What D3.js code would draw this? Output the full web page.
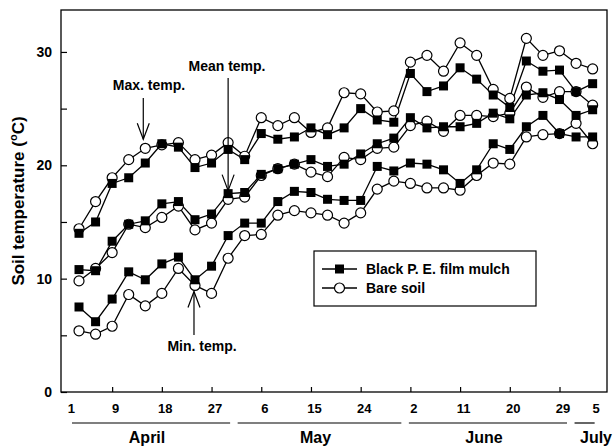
<!DOCTYPE html>
<html>
<head>
<meta charset="utf-8">
<script src="https://cdn.jsdelivr.net/npm/d3@7"></script>
<style>
body { margin: 0; background: #fff; }
text { font-family: "Liberation Sans", Arial, sans-serif; font-weight: bold; fill: #000; }
</style>
</head>
<body>
<div id="chart"></div>
<script>
// day of season (1 = April 1), one point every 3 days
const days = [3, 6, 9, 12, 15, 18, 21, 24, 27, 30, 33, 36, 39, 42, 45, 48,
              51, 54, 57, 60, 63, 66, 69, 72, 75, 78, 81, 84, 87, 90, 93, 96];

const maxMulch  = [14.0, 15.0, 18.4, 18.9, 20.2, 21.9, 21.6, 19.8, 20.2, 21.4, 20.5, 22.8, 22.3, 22.5, 23.3, 22.7,
                   23.3, 25.0, 24.0, 23.8, 28.1, 26.5, 27.0, 28.6, 27.6, 26.2, 25.1, 29.2, 28.3, 28.4, 26.5, 27.2];
const meanMulch = [10.8, 10.7, 13.3, 14.8, 15.1, 16.6, 16.8, 15.2, 15.7, 17.5, 17.6, 19.2, 19.7, 20.1, 20.5, 19.9,
                   20.1, 21.0, 21.9, 22.4, 24.2, 23.3, 23.4, 23.4, 23.7, 24.6, 24.1, 26.2, 26.4, 25.8, 24.4, 24.9];
const minMulch  = [7.5, 6.2, 8.2, 10.6, 9.9, 11.3, 11.9, 9.9, 11.1, 13.8, 14.9, 14.9, 16.8, 17.7, 17.6, 17.0,
                   16.9, 16.9, 19.9, 19.5, 20.2, 20.1, 19.6, 18.4, 19.6, 21.9, 21.4, 23.4, 24.4, 22.8, 22.5, 22.5];

const maxBare   = [14.4, 16.8, 18.9, 20.5, 21.5, 21.8, 22.0, 20.5, 20.9, 22.0, 20.8, 24.2, 23.5, 24.2, 22.9, 23.3,
                   26.4, 26.3, 24.7, 24.8, 29.1, 29.7, 28.3, 30.8, 29.7, 26.7, 25.9, 31.2, 29.7, 30.1, 29.0, 28.5];
const meanBare  = [9.8, 10.9, 12.3, 14.8, 14.5, 15.4, 16.4, 14.3, 14.9, 17.0, 17.2, 19.1, 19.7, 20.1, 19.4, 19.0,
                   20.7, 20.5, 21.5, 21.6, 23.5, 23.9, 23.0, 24.4, 24.4, 24.3, 24.6, 26.9, 26.0, 26.5, 26.5, 25.3];
const minBare   = [5.4, 5.1, 5.8, 8.6, 7.6, 8.7, 10.9, 9.4, 8.7, 11.8, 13.8, 13.9, 15.6, 16.0, 15.8, 15.6,
                   14.9, 15.8, 17.9, 18.6, 18.4, 18.0, 18.0, 17.8, 19.1, 20.2, 20.1, 22.5, 22.7, 22.8, 23.7, 21.9];

const tickDays   = [1, 9, 18, 27, 36, 45, 54, 63, 72, 81, 90, 96];
const tickLabels = ["1", "9", "18", "27", "6", "15", "24", "2", "11", "20", "29", "5"];

const monthNames = ["April", "May", "June", "July"];
const monthStart = [1, 31, 62, 92];
const monthEnd   = [30, 61, 91, 96];

const yTicks = [0, 5, 10, 15, 20, 25, 30];

const width = 615;
const height = 446;
const plotLeft = 61, plotRight = 607, plotTop = 10, plotBottom = 392;

let svg = d3.select("#chart")
    .append("svg")
    .attr("width", width)
    .attr("height", height);

let x = d3.scaleLinear()
    .domain([-0.26, 98.6])
    .range([plotLeft, plotRight]);

let y = d3.scaleLinear()
    .domain([0, 33.7])
    .range([plotBottom, plotTop]);

// frame
svg.append("rect")
    .attr("x", plotLeft)
    .attr("y", plotTop)
    .attr("width", plotRight - plotLeft)
    .attr("height", plotBottom - plotTop)
    .attr("fill", "none")
    .attr("stroke", "#000")
    .attr("stroke-width", 1.3);

// y axis
let yAxis = d3.axisLeft(y)
    .tickValues(yTicks)
    .tickSize(-6)
    .tickSizeOuter(0)
    .tickPadding(9)
    .tickFormat(d => d % 10 === 0 ? d : "");

let gy = svg.append("g")
    .attr("transform", `translate(${plotLeft},0)`)
    .call(yAxis);
gy.select(".domain").remove();
gy.selectAll("line").attr("stroke-width", 1.2);
gy.selectAll("text")
    .style("font-size", "14px")
    .style("font-family", "'Liberation Sans', Arial, sans-serif")
    .style("font-weight", "bold");

// x axis
let xAxis = d3.axisBottom(x)
    .tickValues(tickDays)
    .tickSize(-5)
    .tickSizeOuter(0)
    .tickPadding(12)
    .tickFormat((d, i) => tickLabels[i]);

let gx = svg.append("g")
    .attr("transform", `translate(0,${plotBottom})`)
    .call(xAxis);
gx.select(".domain").remove();
gx.selectAll(".tick line")
    .attr("stroke-width", 1.2)
    .attr("display", (d, i) => (i === 0 || i === tickDays.length - 1) ? "none" : null);
gx.selectAll("text")
    .attr("dx", 3)
    .style("font-size", "13px")
    .style("font-family", "'Liberation Sans', Arial, sans-serif")
    .style("font-weight", "bold");

// month underlines and names
for (let i = 0; i < monthNames.length; i++) {
    let x0 = x(monthStart[i]) + 4;
    let x1 = x(monthEnd[i]) + 2;
    svg.append("line")
        .attr("x1", x0).attr("x2", Math.min(x1, plotRight))
        .attr("y1", 423).attr("y2", 423)
        .attr("stroke", "#000")
        .attr("stroke-width", 1.2);
    svg.append("text")
        .attr("x", i === monthNames.length - 1 ? 596 : (x0 + x1) / 2 - 4)
        .attr("y", 443)
        .attr("text-anchor", "middle")
        .style("font-size", "16px")
        .text(monthNames[i]);
}

// y title
svg.append("text")
    .attr("transform", `translate(24,${(plotTop + plotBottom) / 2 }) rotate(-90)`)
    .attr("text-anchor", "middle")
    .style("font-size", "17px")
    .html('Soil temperature (<tspan dy="-7" font-size="11px">o</tspan><tspan dy="7">C)</tspan>');

// series
let line = d3.line()
    .x((d, i) => x(days[i]))
    .y(d => y(d));

let mulchSeries = [maxMulch, meanMulch, minMulch];
let bareSeries = [maxBare, meanBare, minBare];

bareSeries.concat(mulchSeries).forEach(s => {
    svg.append("path")
        .datum(s)
        .attr("fill", "none")
        .attr("stroke", "#000")
        .attr("stroke-width", 1.3)
        .attr("d", line);
});

bareSeries.forEach(s => {
    svg.append("g").selectAll("circle")
        .data(s)
        .enter().append("circle")
        .attr("cx", (d, i) => x(days[i]))
        .attr("cy", d => y(d))
        .attr("r", 5)
        .attr("fill", "#fff")
        .attr("stroke", "#000")
        .attr("stroke-width", 1.2);
});

mulchSeries.forEach(s => {
    svg.append("g").selectAll("rect")
        .data(s)
        .enter().append("rect")
        .attr("x", (d, i) => x(days[i]) - 4.5)
        .attr("y", d => y(d) - 4.5)
        .attr("width", 9)
        .attr("height", 9)
        .attr("fill", "#000");
});

// annotations with open arrowheads
function arrow(xPos, y0, y1) {
    let dir = y1 > y0 ? -1 : 1;
    svg.append("line")
        .attr("x1", xPos).attr("x2", xPos)
        .attr("y1", y0).attr("y2", y1)
        .attr("stroke", "#000").attr("stroke-width", 1.2);
    svg.append("path")
        .attr("d", `M${xPos - 6},${y1 + dir * 16} L${xPos},${y1} L${xPos + 6},${y1 + dir * 16}`)
        .attr("fill", "none")
        .attr("stroke", "#000")
        .attr("stroke-width", 1.2);
}

svg.append("text")
    .attr("x", 149).attr("y", 90)
    .attr("text-anchor", "middle")
    .style("font-size", "14px")
    .text("Max. temp.");
arrow(x(days[4]) - 2, 98, y(maxBare[4]) - 9);

svg.append("text")
    .attr("x", 227).attr("y", 71)
    .attr("text-anchor", "middle")
    .style("font-size", "14px")
    .text("Mean temp.");
arrow(x(days[9]), 78, y(meanMulch[9]) - 3);

svg.append("text")
    .attr("x", 202).attr("y", 351)
    .attr("text-anchor", "middle")
    .style("font-size", "14px")
    .text("Min. temp.");
arrow(x(days[7]) - 1, 335, y(minBare[7]) + 6);

// legend
let legend = svg.append("g");
legend.append("rect")
    .attr("x", 314).attr("y", 251)
    .attr("width", 222).attr("height", 55)
    .attr("fill", "#fff")
    .attr("stroke", "#000")
    .attr("stroke-width", 1.2);

let legendRows = [
    { name: "Black P. E. film mulch", type: "square", yy: 269 },
    { name: "Bare soil", type: "circle", yy: 288 }
];

legendRows.forEach(r => {
    legend.append("line")
        .attr("x1", 322).attr("x2", 357)
        .attr("y1", r.yy).attr("y2", r.yy)
        .attr("stroke", "#000").attr("stroke-width", 1.3);
    if (r.type === "square") {
        legend.append("rect")
            .attr("x", 335).attr("y", r.yy - 4.5)
            .attr("width", 9).attr("height", 9)
            .attr("fill", "#000");
    } else {
        legend.append("circle")
            .attr("cx", 339.5).attr("cy", r.yy)
            .attr("r", 5)
            .attr("fill", "#fff")
            .attr("stroke", "#000").attr("stroke-width", 1.2);
    }
    legend.append("text")
        .attr("x", 366).attr("y", r.yy + 5)
        .style("font-size", "14px")
        .text(r.name);
});
</script>
</body>
</html>
